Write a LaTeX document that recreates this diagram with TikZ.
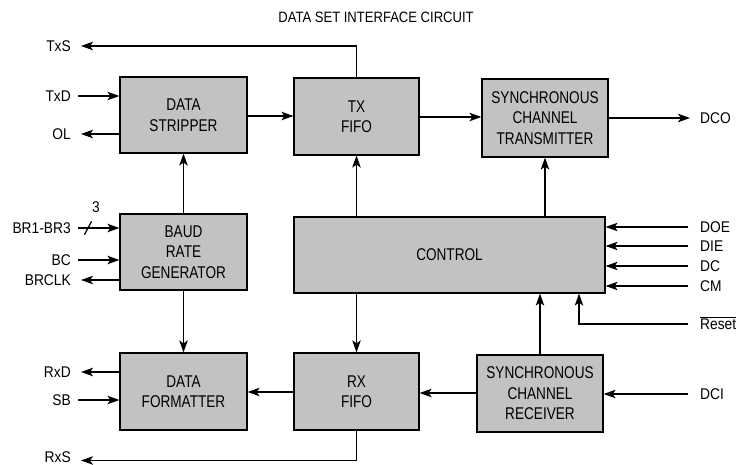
\documentclass[tikz,border=0pt]{standalone}
\usepackage{fontspec}
\setmainfont{Liberation Sans}[FakeStretch=0.8]
\newfontfamily\boxfont{Liberation Sans}[FakeStretch=0.8]
\newfontfamily\labfont{Liberation Sans}[FakeStretch=0.89]
\newfontfamily\titfont{Liberation Sans}[FakeStretch=0.87]
\usetikzlibrary{arrows.meta}
\tikzset{
  blk/.style={draw, line width=1.2pt, fill=black!24, align=center, font=\boxfont\fontsize{17}{20.5}\selectfont, inner sep=0pt},
  lbl/.style={inner sep=0pt, text height=11pt, text depth=0pt, font=\labfont\fontsize{15.5}{18}\selectfont},
  arr/.style={line width=1.25pt, -{Stealth[length=12pt,width=8.5pt,inset=3pt]}},
  ln/.style={line width=1.25pt}
}
\begin{document}
\begin{tikzpicture}[x=1pt,y=-1pt]
\useasboundingbox (0,0) rectangle (738,465);
% title
\node[inner sep=0pt, font=\titfont\fontsize{15}{16}\selectfont] (title) at (376,17) {DATA SET INTERFACE CIRCUIT};
% blocks
\node[blk, minimum width=127pt, minimum height=76pt] (strip) at (183.5,115) {DATA\\STRIPPER};
\node[blk, minimum width=125pt, minimum height=77pt] (txf) at (356.5,116.5) {TX\\FIFO};
\node[blk, minimum width=126pt, minimum height=78pt] (stx) at (545,118) {SYNCHRONOUS\\CHANNEL\\TRANSMITTER};
\node[blk, minimum width=127pt, minimum height=76pt] (baud) at (183.5,252) {BAUD\\RATE\\GENERATOR};
\node[blk, minimum width=311pt, minimum height=76pt] (ctrl) at (449.5,255) {CONTROL};
\node[blk, minimum width=127pt, minimum height=77pt] (fmt) at (183.5,391.5) {DATA\\FORMATTER};
\node[blk, minimum width=125pt, minimum height=77pt] (rxf) at (356.5,391.5) {RX\\FIFO};
\node[blk, minimum width=126pt, minimum height=77pt] (srx) at (540,393.5) {SYNCHRONOUS\\CHANNEL\\RECEIVER};
% left labels
\node[lbl, anchor=east] (txs) at (71,46) {TxS};
\node[lbl, anchor=east] (txd) at (71,96) {TxD};
\node[lbl, anchor=east] (ol) at (71,134) {OL};
\node[lbl, anchor=east] (br) at (71,228) {BR1-BR3};
\node[lbl, anchor=east] (bc) at (71,260) {BC};
\node[lbl, anchor=east] (brclk) at (71,280) {BRCLK};
\node[lbl, anchor=east] (rxd) at (71,372) {RxD};
\node[lbl, anchor=east] (sb) at (71,400) {SB};
\node[lbl, anchor=east] (rxs) at (71,456.5) {RxS};
% right labels
\node[lbl, anchor=west] (dco) at (700,118) {DCO};
\node[lbl, anchor=west] (doe) at (700,227) {DOE};
\node[lbl, anchor=west] (die) at (700,246) {DIE};
\node[lbl, anchor=west] (dc) at (700,266) {DC};
\node[lbl, anchor=west] (cm) at (700,286) {CM};
\node[lbl, anchor=west] (reset) at (700,324) {$\overline{\mbox{Reset}}$};
\node[lbl, anchor=west] (dci) at (700,394) {DCI};
% connectors: top row
\draw[arr] (txf.north) |- ([xshift=10pt]txs.east);
\draw[arr] ([xshift=7pt]txd.east) -- (strip.west |- txd.east);
\draw[arr] (strip.west |- ol.east) -- ([xshift=10pt]ol.east);
\draw[arr] (strip.east |- 0,116) -- (txf.west |- 0,116);
\draw[arr] (txf.east |- 0,117) -- (stx.west |- 0,117);
\draw[arr] (stx.east) -- ([xshift=-10pt]dco.west);
% vertical
\draw[arr] (baud.north) -- (strip.south);
\draw[arr] (txf.south |- ctrl.north) -- (txf.south);
\draw[arr] (stx.south |- ctrl.north) -- (stx.south);
\draw[arr] (baud.south) -- (fmt.north);
\draw[arr] (rxf.north |- ctrl.south) -- (rxf.north);
\draw[arr] (srx.north) -- (srx.north |- ctrl.south);
% baud inputs
\draw[arr] ([xshift=7pt]br.east) -- (baud.west |- br.east);
\coordinate (sl) at (88,228);
\draw[ln] ([shift={(-3.5,6.5)}]sl) -- ([shift={(3.5,-6.5)}]sl);
\node[inner sep=0pt, font=\labfont\fontsize{15.5}{16}\selectfont] (three) at (96,207) {3};
\draw[arr] ([xshift=7pt]bc.east) -- (baud.west |- bc.east);
\draw[arr] (baud.west |- brclk.east) -- ([xshift=10pt]brclk.east);
% bottom row
\draw[arr] (fmt.west |- rxd.east) -- ([xshift=10pt]rxd.east);
\draw[arr] ([xshift=7pt]sb.east) -- (fmt.west |- sb.east);
\draw[arr] (rxf.west |- 0,392) -- (fmt.east |- 0,392);
\draw[arr] (srx.west |- 0,393) -- (rxf.east |- 0,393);
\draw[arr] (rxf.south) |- ([xshift=10pt]rxs.east |- 0,460.5);
\draw[arr] ([xshift=-12pt]dci.west) -- (srx.east |- dci.west);
% control inputs
\draw[arr] ([xshift=-12pt]doe.west) -- (ctrl.east |- doe.west);
\draw[arr] ([xshift=-12pt]die.west) -- (ctrl.east |- die.west);
\draw[arr] ([xshift=-12pt]dc.west) -- (ctrl.east |- dc.west);
\draw[arr] ([xshift=-12pt]cm.west) -- (ctrl.east |- cm.west);
\draw[arr] ([xshift=-12pt]reset.west) -| ([xshift=129.5pt]ctrl.south);
\end{tikzpicture}
\end{document}
